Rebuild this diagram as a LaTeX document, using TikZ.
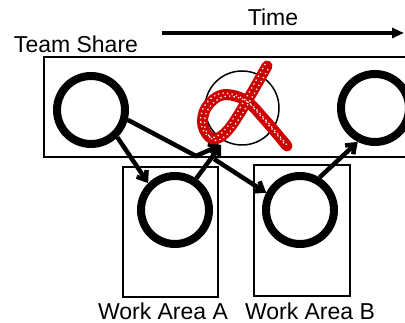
\documentclass[tikz,border=0pt]{standalone}
\usepackage{fontspec}
\setmainfont{Liberation Sans}
\usetikzlibrary{
  arrows.meta, % 箭头样式
  calc         % 坐标计算
}

\begin{document}
\begin{tikzpicture}[x=1pt, y=1pt, >=Stealth,
  person/.style={circle, draw, line width=8pt, minimum size=68pt, inner sep=0pt}, % 粗圆圈表示成员
  ghost/.style={circle, draw, line width=1.5pt, minimum size=74pt, inner sep=0pt}, % 被划掉的细圆圈
  area/.style={draw, line width=1.3pt}, % 区域方框
  flow/.style={-{Straight Barb[length=8pt, width=12pt]}, line width=4.5pt}, % 流向箭头
  lbl/.style={font=\fontsize{23}{25}\selectfont, inner sep=0pt} % 文字标签
] % 整体思路：上方一个长框表示共享区，下方两个小框表示工作区，圆圈之间用箭头连接
  \clip (0,0) rectangle (405,323); % 固定画幅 405x323
  \useasboundingbox (0,0) rectangle (405,323);

  % 区域方框
  \draw[area] (470,266) -- (44,266) -- (44,166) -- (470,166); % 共享区，右边超出画幅
  \draw[area] (123,26) rectangle (218,156); % 工作区 A
  \draw[area] (254,27) rectangle (350,158); % 工作区 B

  % 文字
  \node[lbl] (share) at (76,279) {Team Share};
  \node[lbl] (time) at (273,306) {Time};
  \node[lbl] (labA) at (163,12) {Work Area A};
  \node[lbl] (labB) at (310,12) {Work Area B};

  % 时间箭头
  \coordinate (t0) at (162,290);
  \coordinate (t1) at (404,290);
  \draw[-{Triangle[length=12pt, width=10pt]}, line width=3.5pt] (t0) -- (t1);

  % 圆圈
  \node[person] (one) at (91,213) {};
  \node[ghost] (lost) at (242,215) {};
  \node[person] (last) at (375,215) {};
  \node[person] (wa) at (175,113) {};
  \node[person] (wb) at (300,113) {};

  % 连接点
  \coordinate (bend) at (196,167); % 折点
  \coordinate (foot) at (221,178); % 被划掉圆圈下方的汇合点
  \coordinate (fork) at (214,164); % 通往工作区 B 的起点

  % 箭头
  \draw[flow] (one.-46) -- (wa.135);
  \draw[flow] (one.-15) -- (bend) -- (foot);
  \draw[flow] (wa.56) -- (foot);
  \draw[flow] (fork) -- (wb.153);
  \draw[flow] (wb.59) -- (last.243);

  % 红色划痕
  \def\scribble{(267,257) (247,222) (228,193) (213,184) (203,197) (206,215) (222,228) (245,223) (265,203) (287,177)}
  \draw[red!80!black, line width=11pt, line cap=round, line join=round]
    plot[smooth, tension=0.6] coordinates {\scribble};
  \draw[white, line width=1.8pt, line cap=round, dash pattern=on 0pt off 4.5pt, xshift=-2pt, yshift=1.5pt]
    plot[smooth, tension=0.6] coordinates {\scribble};
  \draw[white, line width=1.8pt, line cap=round, dash pattern=on 0pt off 4.5pt, xshift=2pt, yshift=-1.5pt, dash phase=2pt]
    plot[smooth, tension=0.6] coordinates {\scribble};
\end{tikzpicture}
\end{document}
